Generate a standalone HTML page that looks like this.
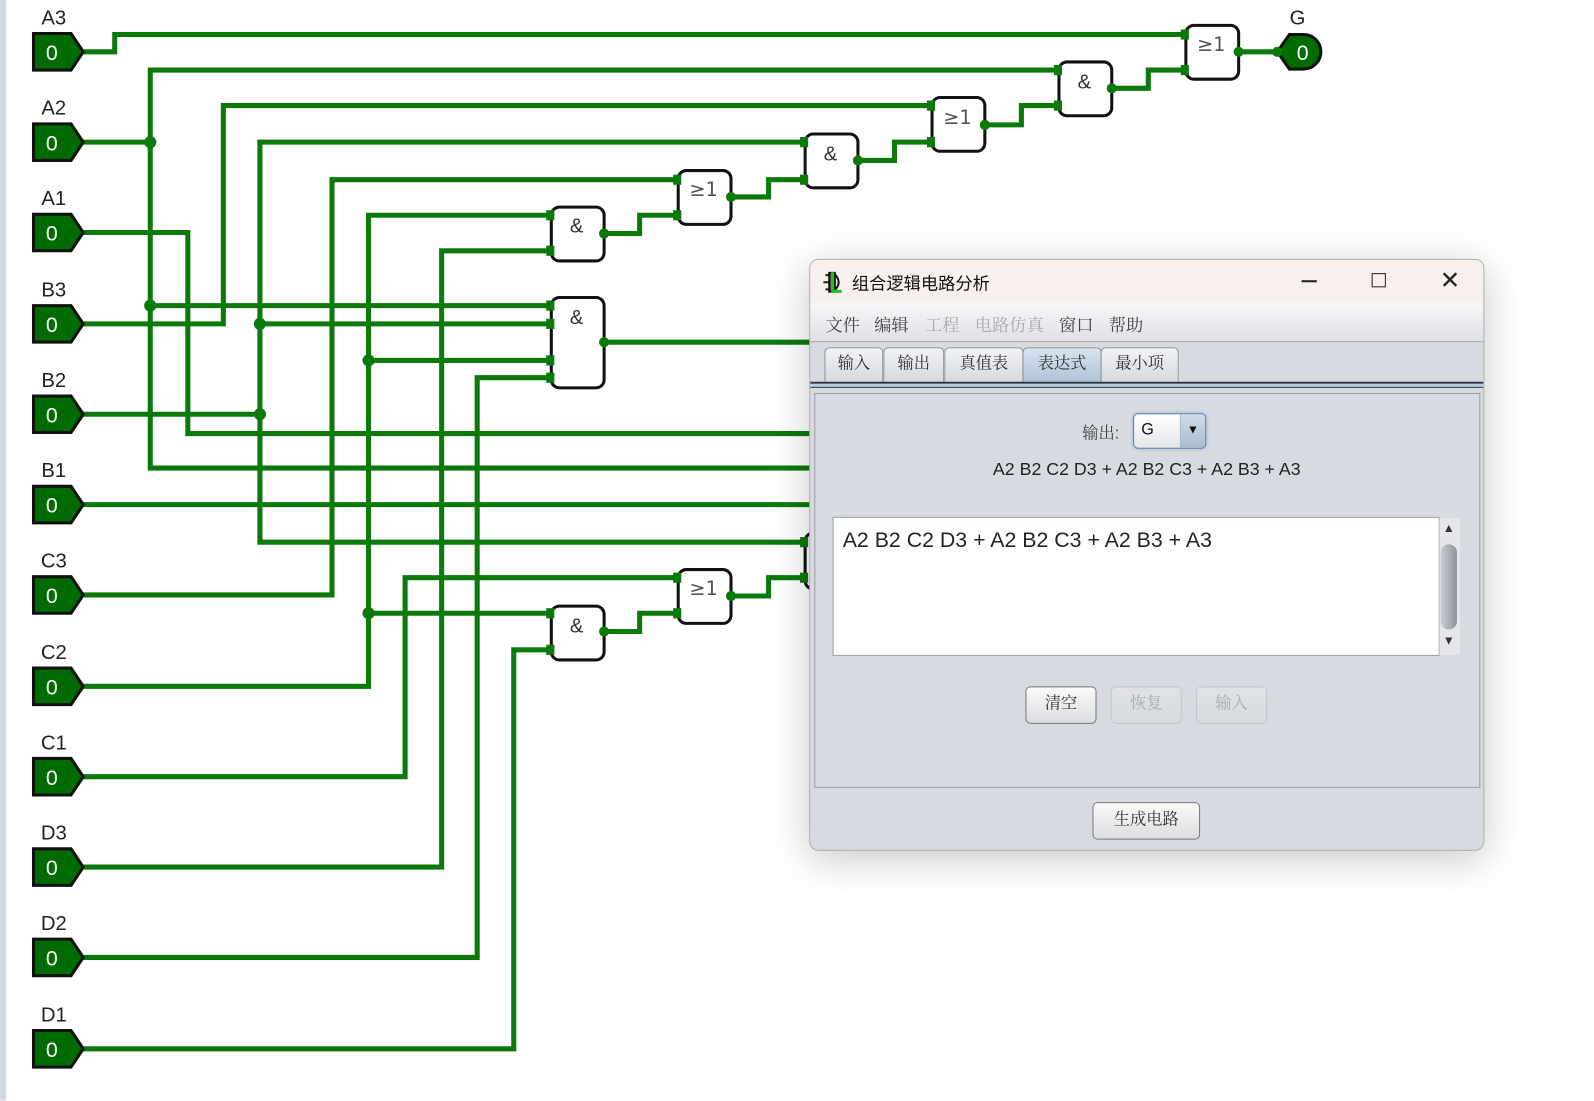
<!DOCTYPE html>
<html><head><meta charset="utf-8">
<style>
html,body{margin:0;padding:0;background:#fff;width:1594px;height:1100px;overflow:hidden}
#c{position:absolute;left:0;top:0;width:1570px;height:1084px;transform:scale(1.0153);transform-origin:0 0;font-family:"Liberation Sans","Noto Sans CJK SC",sans-serif}
.abs{position:absolute}
.dlg{position:absolute;left:797px;top:255px;width:663px;height:581px;border:1px solid #b0b0b0;border-radius:9px;background:#d7dae1;box-shadow:0 8px 40px rgba(0,0,0,0.22);overflow:hidden}
.cjk{font-family:"Liberation Sans","Noto Serif CJK SC","Noto Sans CJK SC",serif}
.tab{position:absolute;top:86px;height:34px;border:1px solid #8a8e96;border-bottom:none;border-radius:5px 5px 0 0;background:linear-gradient(#f2f3f5,#d5d8de);font-size:16px;color:#333;text-align:center;line-height:32px}
.btn{position:absolute;height:35px;border:1px solid #777;border-radius:5px;background:linear-gradient(#fafafa,#dcdde0);font-size:16px;color:#333;text-align:center;line-height:34px}
.dis{border-color:#c4c6ca;color:#a8abb0;background:linear-gradient(#dfe1e5,#d7dade)}
.mi{position:absolute;top:50px;font-size:17px;color:#444;white-space:nowrap}
</style></head><body>
<div id="c">
<svg width="1570" height="1084" style="position:absolute;left:0;top:0" xmlns="http://www.w3.org/2000/svg">
<rect x="0" y="0" width="6" height="1084" fill="#d3d7df"/>
<g fill="none" stroke="#0b7a0b" stroke-width="5" stroke-linejoin="miter">
<polyline points="82,51 113,51 113,34 1170,34"/>
<polyline points="82,140 148,140"/>
<polyline points="1045,69 148,69 148,461 800,461"/>
<polyline points="148,301 543,301"/>
<polyline points="82,229 185,229 185,427 800,427"/>
<polyline points="82,319 220,319 220,104 920,104"/>
<polyline points="82,408 256,408"/>
<polyline points="795,140 256,140 256,534 795,534"/>
<polyline points="256,319 543,319"/>
<polyline points="82,497 800,497"/>
<polyline points="82,586 327,586 327,177 670,177"/>
<polyline points="82,676 363,676 363,212 543,212"/>
<polyline points="363,355 543,355"/>
<polyline points="363,604 543,604"/>
<polyline points="82,765 399,765 399,569 670,569"/>
<polyline points="82,854 435,854 435,247 543,247"/>
<polyline points="82,943 470,943 470,372 543,372"/>
<polyline points="82,1033 506,1033 506,640 543,640"/>
<polyline points="595,230 630,230 630,212 670,212"/>
<polyline points="720,194 757,194 757,177 795,177"/>
<polyline points="845,158 881,158 881,140 920,140"/>
<polyline points="970,123 1006,123 1006,104 1045,104"/>
<polyline points="1095,87 1131,87 1131,69 1170,69"/>
<polyline points="1220,51 1260,51"/>
<polyline points="595,337 800,337"/>
<polyline points="595,622 630,622 630,604 670,604"/>
<polyline points="720,587 757,587 757,569 795,569"/>
</g>
<g fill="#0b7a0b">
<circle cx="148" cy="140" r="6"/><circle cx="148" cy="301" r="6"/>
<circle cx="256" cy="319" r="6"/><circle cx="256" cy="408" r="6"/>
<circle cx="363" cy="355" r="6"/><circle cx="363" cy="604" r="6"/>
</g>
<g fill="#fff" stroke="#111" stroke-width="3">
<rect x="543" y="204" width="52" height="53" rx="8"/>
<rect x="668" y="168" width="52" height="53" rx="8"/>
<rect x="793" y="132" width="52" height="53" rx="8"/>
<rect x="918" y="96" width="52" height="53" rx="8"/>
<rect x="1043" y="61" width="52" height="53" rx="8"/>
<rect x="1168" y="25" width="52" height="53" rx="8"/>
<rect x="543" y="293" width="52" height="89" rx="8"/>
<rect x="543" y="597" width="52" height="53" rx="8"/>
<rect x="668" y="561" width="52" height="53" rx="8"/>
<rect x="793" y="525" width="52" height="55" rx="8"/>
</g>
<g fill="#0b7a0b">
<rect x="538" y="207" width="8" height="10"/><rect x="538" y="242" width="8" height="10"/>
<rect x="663" y="172" width="8" height="10"/><rect x="663" y="207" width="8" height="10"/>
<rect x="788" y="135" width="8" height="10"/><rect x="788" y="172" width="8" height="10"/>
<rect x="913" y="99" width="8" height="10"/><rect x="913" y="135" width="8" height="10"/>
<rect x="1038" y="64" width="8" height="10"/><rect x="1038" y="99" width="8" height="10"/>
<rect x="1163" y="29" width="8" height="10"/><rect x="1163" y="64" width="8" height="10"/>
<rect x="538" y="296" width="8" height="10"/><rect x="538" y="314" width="8" height="10"/>
<rect x="538" y="350" width="8" height="10"/><rect x="538" y="367" width="8" height="10"/>
<rect x="538" y="599" width="8" height="10"/><rect x="538" y="635" width="8" height="10"/>
<rect x="663" y="564" width="8" height="10"/><rect x="663" y="599" width="8" height="10"/>
<rect x="788" y="529" width="8" height="10"/><rect x="788" y="564" width="8" height="10"/>
<circle cx="595" cy="230" r="5"/><circle cx="720" cy="194" r="5"/><circle cx="845" cy="158" r="5"/>
<circle cx="970" cy="123" r="5"/><circle cx="1095" cy="87" r="5"/><circle cx="1220" cy="51" r="5"/>
<circle cx="595" cy="337" r="5"/><circle cx="595" cy="622" r="5"/><circle cx="720" cy="587" r="5"/>
</g>
<g font-family="Liberation Sans, sans-serif" font-size="20" fill="#333" text-anchor="middle">
<text x="568" y="229">&amp;</text><text x="818" y="158">&amp;</text><text x="1068" y="87">&amp;</text>
<text x="568" y="319">&amp;</text><text x="568" y="623">&amp;</text>
<text x="693" y="193" font-size="19" fill="#555" font-family="DejaVu Sans, sans-serif">≥1</text>
<text x="943" y="122" font-size="19" fill="#555" font-family="DejaVu Sans, sans-serif">≥1</text>
<text x="1193" y="50" font-size="19" fill="#555" font-family="DejaVu Sans, sans-serif">≥1</text>
<text x="693" y="586" font-size="19" fill="#555" font-family="DejaVu Sans, sans-serif">≥1</text>
</g>
<g id="pins" font-family="Liberation Sans, sans-serif">
<g transform="translate(0,51)"><polygon points="33,-18 70,-18 82,0 70,18 33,18" fill="#006b00" stroke="#111" stroke-width="3"/><text x="51" y="8" fill="#fff" font-size="21" text-anchor="middle">0</text><text x="53" y="-27" fill="#222" font-size="20" text-anchor="middle">A3</text></g>
<g transform="translate(0,140)"><polygon points="33,-18 70,-18 82,0 70,18 33,18" fill="#006b00" stroke="#111" stroke-width="3"/><text x="51" y="8" fill="#fff" font-size="21" text-anchor="middle">0</text><text x="53" y="-27" fill="#222" font-size="20" text-anchor="middle">A2</text></g>
<g transform="translate(0,229)"><polygon points="33,-18 70,-18 82,0 70,18 33,18" fill="#006b00" stroke="#111" stroke-width="3"/><text x="51" y="8" fill="#fff" font-size="21" text-anchor="middle">0</text><text x="53" y="-27" fill="#222" font-size="20" text-anchor="middle">A1</text></g>
<g transform="translate(0,319)"><polygon points="33,-18 70,-18 82,0 70,18 33,18" fill="#006b00" stroke="#111" stroke-width="3"/><text x="51" y="8" fill="#fff" font-size="21" text-anchor="middle">0</text><text x="53" y="-27" fill="#222" font-size="20" text-anchor="middle">B3</text></g>
<g transform="translate(0,408)"><polygon points="33,-18 70,-18 82,0 70,18 33,18" fill="#006b00" stroke="#111" stroke-width="3"/><text x="51" y="8" fill="#fff" font-size="21" text-anchor="middle">0</text><text x="53" y="-27" fill="#222" font-size="20" text-anchor="middle">B2</text></g>
<g transform="translate(0,497)"><polygon points="33,-18 70,-18 82,0 70,18 33,18" fill="#006b00" stroke="#111" stroke-width="3"/><text x="51" y="8" fill="#fff" font-size="21" text-anchor="middle">0</text><text x="53" y="-27" fill="#222" font-size="20" text-anchor="middle">B1</text></g>
<g transform="translate(0,586)"><polygon points="33,-18 70,-18 82,0 70,18 33,18" fill="#006b00" stroke="#111" stroke-width="3"/><text x="51" y="8" fill="#fff" font-size="21" text-anchor="middle">0</text><text x="53" y="-27" fill="#222" font-size="20" text-anchor="middle">C3</text></g>
<g transform="translate(0,676)"><polygon points="33,-18 70,-18 82,0 70,18 33,18" fill="#006b00" stroke="#111" stroke-width="3"/><text x="51" y="8" fill="#fff" font-size="21" text-anchor="middle">0</text><text x="53" y="-27" fill="#222" font-size="20" text-anchor="middle">C2</text></g>
<g transform="translate(0,765)"><polygon points="33,-18 70,-18 82,0 70,18 33,18" fill="#006b00" stroke="#111" stroke-width="3"/><text x="51" y="8" fill="#fff" font-size="21" text-anchor="middle">0</text><text x="53" y="-27" fill="#222" font-size="20" text-anchor="middle">C1</text></g>
<g transform="translate(0,854)"><polygon points="33,-18 70,-18 82,0 70,18 33,18" fill="#006b00" stroke="#111" stroke-width="3"/><text x="51" y="8" fill="#fff" font-size="21" text-anchor="middle">0</text><text x="53" y="-27" fill="#222" font-size="20" text-anchor="middle">D3</text></g>
<g transform="translate(0,943)"><polygon points="33,-18 70,-18 82,0 70,18 33,18" fill="#006b00" stroke="#111" stroke-width="3"/><text x="51" y="8" fill="#fff" font-size="21" text-anchor="middle">0</text><text x="53" y="-27" fill="#222" font-size="20" text-anchor="middle">D2</text></g>
<g transform="translate(0,1033)"><polygon points="33,-18 70,-18 82,0 70,18 33,18" fill="#006b00" stroke="#111" stroke-width="3"/><text x="51" y="8" fill="#fff" font-size="21" text-anchor="middle">0</text><text x="53" y="-27" fill="#222" font-size="20" text-anchor="middle">D1</text></g>
<g transform="translate(0,51)"><path d="M1258,0 L1270,-17 L1284,-17 A17,17 0 0 1 1284,17 L1270,17 Z" fill="#006b00" stroke="#111" stroke-width="3"/><text x="1283" y="8" fill="#fff" font-size="21" text-anchor="middle">0</text><text x="1278" y="-27" fill="#222" font-size="20" text-anchor="middle">G</text></g>
</g>
<circle cx="1258" cy="51" r="5" fill="#0b7a0b"/>
</svg>

<div class="dlg">
  <div class="abs" style="left:0;top:0;width:663px;height:42px;background:#f8f0ed"></div>
  <svg class="abs" style="left:12px;top:10px" width="22" height="24"><path d="M3,5 h5 M1,12 h6 M3,19 h5" stroke="#222" stroke-width="2"/><rect x="7" y="3" width="5" height="18" fill="none" stroke="#111" stroke-width="2.5"/><path d="M12,4 Q20,12 12,20" fill="none" stroke="#111" stroke-width="2"/><path d="M10,2 v19 h9" fill="none" stroke="#1bc21b" stroke-width="3"/></svg>
  <div class="abs" style="left:41px;top:9px;font-size:17px;color:#111;font-family:'Liberation Sans','Noto Sans CJK SC',sans-serif">组合逻辑电路分析</div>
  <div class="abs" style="left:484px;top:20px;width:15px;height:1.5px;background:#222"></div>
  <div class="abs" style="left:553px;top:13px;width:12px;height:12px;border:1.6px solid #222"></div>
  <div class="abs" style="left:620px;top:6px;font-size:24px;color:#222;font-family:'DejaVu Sans',sans-serif;font-weight:200">✕</div>
  <div class="abs" style="left:0;top:42px;width:663px;height:38px;background:linear-gradient(#f6f7f8,#dfe1e6);border-bottom:1px solid #aaa"></div>
  <div class="mi cjk" style="left:15px">文件</div>
  <div class="mi cjk" style="left:63px">编辑</div>
  <div class="mi cjk" style="left:113px;color:#aaa">工程</div>
  <div class="mi cjk" style="left:162px;color:#aaa">电路仿真</div>
  <div class="mi cjk" style="left:245px">窗口</div>
  <div class="mi cjk" style="left:294px">帮助</div>
  <div class="tab cjk" style="left:14px;width:56px">输入</div>
  <div class="tab cjk" style="left:72px;width:58px">输出</div>
  <div class="tab cjk" style="left:132px;width:76px">真值表</div>
  <div class="tab cjk" style="left:209px;width:76px;background:linear-gradient(#d8e3ee,#aec2d6)">表达式</div>
  <div class="tab cjk" style="left:286px;width:75px">最小项</div>
  <div class="abs" style="left:0;top:120px;width:663px;height:2px;background:#2d3545"></div>
  <div class="abs" style="left:0;top:122px;width:663px;height:3px;background:#b7cde0"></div>
  <div class="abs" style="left:0;top:125px;width:663px;height:1px;background:#2d3545"></div>
  <div class="abs" style="left:4px;top:131px;width:654px;height:387px;border:1px solid #9a9da3"></div>
  <div class="abs cjk" style="left:268px;top:158px;font-size:16px;color:#444">输出:</div>
  <div class="abs" style="left:318px;top:151px;width:70px;height:33px;border:1px solid #5a7fa8;border-radius:5px;background:linear-gradient(#fff,#e4e6ea);box-shadow:0 0 3px #8fb0d6"></div>
  <div class="abs" style="left:364px;top:152px;width:24px;height:33px;border-radius:0 5px 5px 0;background:linear-gradient(#d0dce8,#a9bccf);border-left:1px solid #9ab"></div>
  <div class="abs" style="left:326px;top:159px;font-size:16px;color:#111">G</div>
  <div class="abs" style="left:371px;top:160px;font-size:12px;color:#111">▼</div>
  <div class="abs" style="left:0;top:196px;width:663px;text-align:center;font-size:17.5px;color:#222">A2 B2 C2 D3 + A2 B2 C3 + A2 B3 + A3</div>
  <div class="abs" style="left:22px;top:253px;width:596px;height:135px;background:#fff;border:1px solid #999"></div>
  <div class="abs" style="left:32px;top:265px;font-size:21px;color:#222">A2 B2 C2 D3 + A2 B2 C3 + A2 B3 + A3</div>
  <div class="abs" style="left:619px;top:254px;width:20px;height:135px;background:#e4e6ea;border-left:1px solid #bbb"></div>
  <div class="abs" style="left:621px;top:280px;width:16px;height:84px;border-radius:8px;background:linear-gradient(90deg,#c9ccd2,#8e939b);"></div>
  <div class="abs" style="left:623px;top:257px;font-size:12px;color:#333">▲</div>
  <div class="abs" style="left:623px;top:368px;font-size:12px;color:#333">▼</div>
  <div class="btn cjk" style="left:212px;top:420px;width:68px">清空</div>
  <div class="btn cjk dis" style="left:296px;top:420px;width:68px">恢复</div>
  <div class="btn cjk dis" style="left:380px;top:420px;width:68px">输入</div>
  <div class="btn cjk" style="left:278px;top:534px;width:104px">生成电路</div>
</div>
</div>
</body></html>
